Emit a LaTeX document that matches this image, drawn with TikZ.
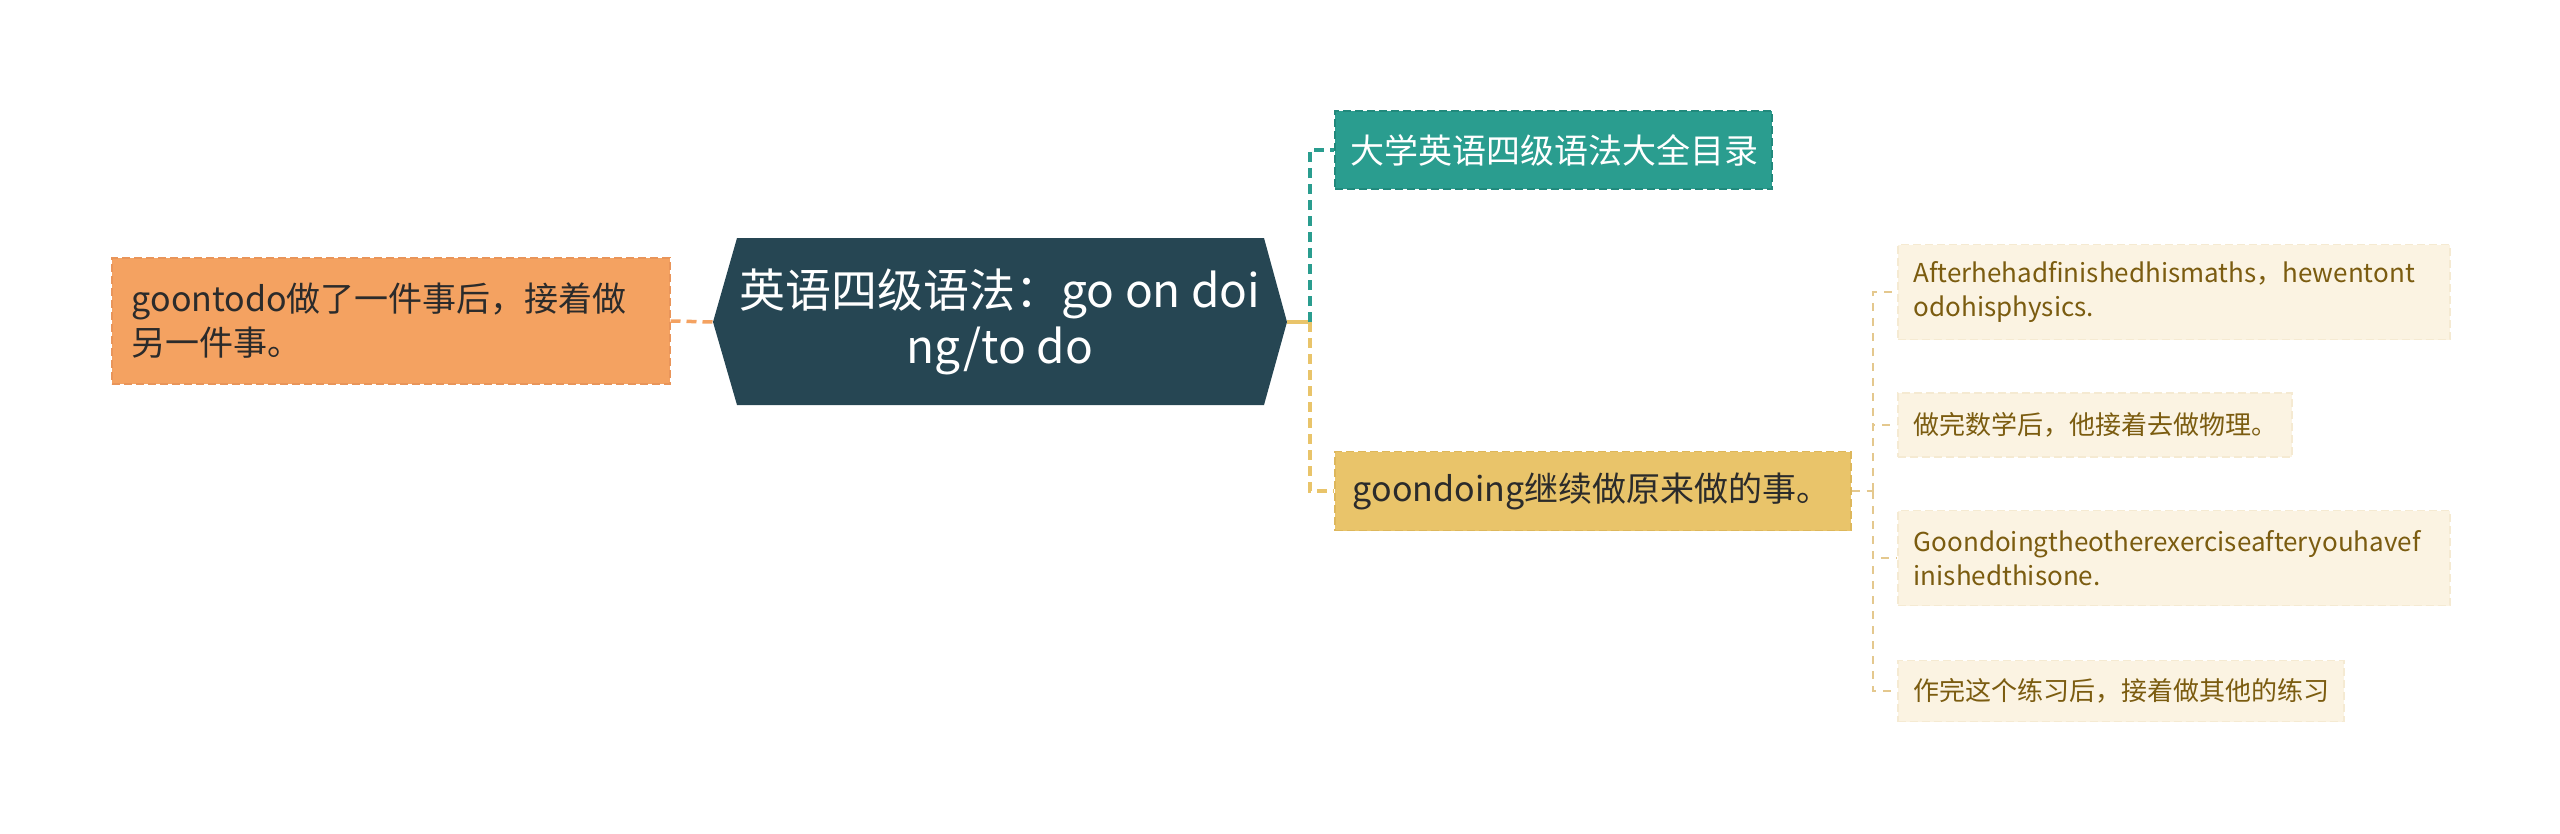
\documentclass[tikz,border=0pt]{standalone}
\usepackage{fontspec}
\setmainfont{Noto Sans CJK SC}
\definecolor{rootcol}{HTML}{264653}
\definecolor{todocol}{HTML}{F4A261}
\definecolor{todoline}{HTML}{E9955A}
\definecolor{dircol}{HTML}{2A9D8F}
\definecolor{dirline}{HTML}{22897C}
\definecolor{doingcol}{HTML}{E9C46A}
\definecolor{doingline}{HTML}{DDB75C}
\definecolor{leaffill}{HTML}{FBF3E2}
\definecolor{leafline}{HTML}{F5EAD2}
\definecolor{leaflink}{HTML}{E4C88E}
\definecolor{leaftext}{HTML}{7B5C10}
\definecolor{textdark}{HTML}{2B2B2B}

\begin{document}
\begin{tikzpicture}[x=1pt, y=-1pt,
    topic/.style={rectangle, anchor=west, align=left, inner ysep=0pt, line width=1.5pt,
        dash pattern=on 8pt off 4pt, text=textdark, font=\fontsize{34}{44}\selectfont},
    leaf/.style={rectangle, anchor=west, align=left, inner xsep=16pt, inner ysep=0pt,
        fill=leaffill, draw=leafline, line width=1.5pt, dash pattern=on 8pt off 4pt,
        text=leaftext, font=\fontsize{26}{34}\selectfont},
    link/.style={line width=3.5pt, dash pattern=on 10pt off 6pt},
    twig/.style={line width=2pt, leaflink, dash pattern=on 8pt off 7pt}]
    \useasboundingbox (0,0) rectangle (2560,833);

    \coordinate (rootW) at (713,322);
    \coordinate (rootE) at (1287,322);
    \coordinate (hub) at (1310,322);
    \coordinate (leafhub) at (1873,491);

    \fill[rootcol] (rootW) -- (737,238) -- (1264,238) -- (rootE) -- (1264,405) -- (737,405) -- cycle;
    \node[text=white, align=center, font=\fontsize{46}{56}\selectfont] (root) at (1000,322) {英语四级语法：go on doi\\ng/to do};

    \node[topic, fill=todocol, draw=todoline, inner xsep=20pt, text width=518pt, minimum height=126pt] (todo) at (111,321) {goontodo做了一件事后，接着做\\另一件事。};
    \node[topic, fill=dircol, draw=dirline, text=white, inner xsep=16pt, text width=405pt, minimum height=78pt] (dir) at (1334,150) {大学英语四级语法大全目录};
    \node[topic, fill=doingcol, draw=doingline, inner xsep=18pt, text width=480pt, minimum height=79pt] (doing) at (1334,491) {goondoing继续做原来做的事。};

    \node[leaf, text width=520pt, minimum height=95pt] (ex1) at (1897,292) {Afterhehadfinishedhismaths，hewentont\\odohisphysics.};
    \node[leaf, text width=362pt, minimum height=64pt] (ex2) at (1897,425) {做完数学后，他接着去做物理。};
    \node[leaf, text width=520pt, minimum height=95pt] (ex3) at (1897,558) {Goondoingtheotherexerciseafteryouhavef\\inishedthisone.};
    \node[leaf, text width=414pt, minimum height=61pt] (ex4) at (1897,691) {作完这个练习后，接着做其他的练习};

    \draw[link, todocol] (todo.east) -- (rootW);
    \draw[line width=3.5pt, doingcol] (rootE) -- (hub);
    \draw[link, dircol] (hub) |- (dir.west);
    \draw[link, doingcol] (hub) |- (doing.west);

    \draw[twig] (doing.east) -- (leafhub);
    \draw[twig] (leafhub) |- (ex1.west);
    \draw[twig] (leafhub) |- (ex2.west);
    \draw[twig] (leafhub) |- (ex3.west);
    \draw[twig] (leafhub) |- (ex4.west);
\end{tikzpicture}
\end{document}
